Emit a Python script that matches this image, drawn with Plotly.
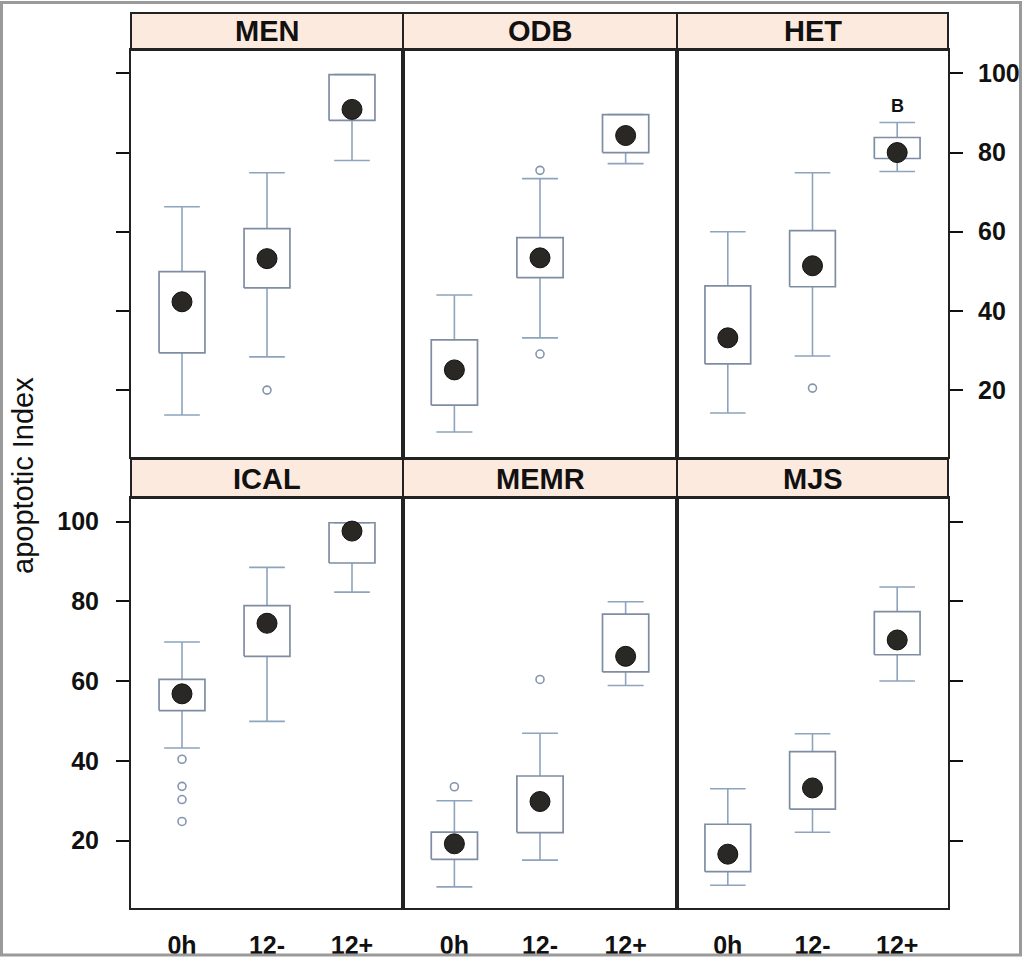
import plotly.graph_objects as go

# panels (lattice order: top row first) and time groups
panels = ["MEN", "ODB", "HET", "ICAL", "MEMR", "MJS"]
groups = ["0h", "12-", "12+"]

# box stats, one row per panel, one value per group
whisker_lo = [
    [13.7, 28.4, 78.0],
    [9.4, 33.2, 77.2],
    [14.2, 28.6, 75.2],
    [43.2, 49.9, 82.3],
    [8.4, 15.1, 58.9],
    [8.8, 22.1, 60.0],
]
q1 = [
    [29.4, 45.8, 88.1],
    [16.2, 48.4, 80.0],
    [26.6, 46.1, 78.5],
    [52.6, 66.2, 89.6],
    [15.3, 22.0, 62.3],
    [12.2, 27.9, 66.6],
]
median = [
    [42.3, 53.2, 90.9],
    [25.1, 53.4, 84.3],
    [33.2, 51.4, 80.0],
    [56.8, 74.5, 97.6],
    [19.2, 29.8, 66.2],
    [16.6, 33.2, 70.3],
]
q3 = [
    [49.9, 60.8, 99.7],
    [32.7, 58.5, 89.6],
    [46.3, 60.3, 83.8],
    [60.4, 78.9, 99.7],
    [22.1, 36.2, 76.8],
    [24.1, 42.3, 77.4],
]
whisker_hi = [
    [66.3, 74.9, 99.7],
    [44.0, 73.4, 89.6],
    [60.0, 74.9, 87.6],
    [69.8, 88.5, 99.7],
    [30.0, 46.9, 79.9],
    [33.0, 46.8, 83.6],
]
outliers = [
    [[], [20.0], []],
    [[], [75.5, 29.1], []],
    [[], [20.5], []],
    [[40.4, 33.6, 30.3, 24.8], [], []],
    [[33.5], [60.4], []],
    [[], [], []],
]
y_ticks = [20, 40, 60, 80, 100]

W, H = 1023, 958
col_px = [(131, 403), (403, 677), (677, 948)]
row_px = [(50, 457), (498, 908)]       # plot area, top -> bottom
strip_px = [(13, 50), (459, 498)]

box_col = "#7f8da2"
whisk_col = "#8ea3bd"
half_box = 0.27
half_cap = 0.21
tick_font = dict(family="Liberation Sans", size=25, color="#111111", weight="bold")

fig = go.Figure()
layout = {}
shapes = []
annotations = []

for p, name in enumerate(panels):
    r, c = divmod(p, 3)
    n = p + 1
    xa, ya = ("x" if n == 1 else f"x{n}"), ("y" if n == 1 else f"y{n}")

    bx, by, wx, wy, ox, oy = [], [], [], [], [], []
    for i in range(len(groups)):
        bx += [i - half_box, i + half_box, i + half_box, i - half_box, i - half_box, None]
        by += [q1[p][i], q1[p][i], q3[p][i], q3[p][i], q1[p][i], None]
        # whiskers with caps
        wx += [i, i, None, i - half_cap, i + half_cap, None]
        wy += [q3[p][i], whisker_hi[p][i], None, whisker_hi[p][i], whisker_hi[p][i], None]
        wx += [i, i, None, i - half_cap, i + half_cap, None]
        wy += [q1[p][i], whisker_lo[p][i], None, whisker_lo[p][i], whisker_lo[p][i], None]
        for v in outliers[p][i]:
            ox.append(i)
            oy.append(v)

    fig.add_trace(go.Scatter(x=wx, y=wy, mode="lines", xaxis=xa, yaxis=ya,
                             line=dict(color=whisk_col, width=1.6), hoverinfo="skip"))
    fig.add_trace(go.Scatter(x=bx, y=by, mode="lines", xaxis=xa, yaxis=ya,
                             line=dict(color=box_col, width=1.7), hoverinfo="skip"))
    fig.add_trace(go.Scatter(x=ox, y=oy, mode="markers", xaxis=xa, yaxis=ya,
                             marker=dict(symbol="circle-open", size=8, color="#8595ad",
                                         line=dict(width=1.6))))
    fig.add_trace(go.Scatter(x=list(range(len(groups))), y=median[p], mode="markers",
                             xaxis=xa, yaxis=ya,
                             marker=dict(size=20, color="#2a2824",
                                         line=dict(color="#111111", width=1))))

    x0, x1 = col_px[c]
    top, bot = row_px[r]
    xdom = [x0 / W, x1 / W]
    ydom = [1 - bot / H, 1 - top / H]

    xaxis = dict(domain=xdom, anchor=ya, range=[-0.6, 2.6], showgrid=False, zeroline=False,
                 showline=True, mirror=True, linecolor="#222222", linewidth=2,
                 tickvals=list(range(len(groups))), ticktext=groups, ticks="",
                 showticklabels=(r == 1), ticklabelstandoff=14, tickfont=tick_font)
    yaxis = dict(domain=ydom, anchor=xa, range=[3.1, 105.9], showgrid=False, zeroline=False,
                 showline=True, mirror=True, linecolor="#222222", linewidth=2,
                 tickvals=y_ticks, ticks="", showticklabels=False, ticklen=13,
                 tickwidth=2, tickcolor="#111111", ticklabelstandoff=12, tickfont=tick_font)
    if c == 0:
        yaxis.update(side="left", ticks="outside", showticklabels=(r == 1))
    elif c == 2:
        yaxis.update(side="right", ticks="outside", showticklabels=(r == 0),
                     ticklabelstandoff=10)

    layout["xaxis" if n == 1 else f"xaxis{n}"] = xaxis
    layout["yaxis" if n == 1 else f"yaxis{n}"] = yaxis

    # strip header
    s0, s1 = strip_px[r]
    shapes.append(dict(type="rect", xref="paper", yref="paper",
                       x0=xdom[0], x1=xdom[1], y0=1 - s1 / H, y1=1 - s0 / H,
                       fillcolor="#fdeade", line=dict(color="#222222", width=2), layer="below"))
    annotations.append(dict(text=name, xref="paper", yref="paper",
                            x=(xdom[0] + xdom[1]) / 2, y=1 - (s0 + s1) / 2 / H,
                            showarrow=False, xanchor="center", yanchor="middle",
                            font=dict(family="Liberation Sans", size=29, color="#111111",
                                      weight="bold")))

# letter above the HET 12+ box
annotations.append(dict(text="B", xref="x3", yref="y3", x=2, y=91.8, showarrow=False,
                        font=dict(family="Liberation Sans", size=18, color="#111111",
                                  weight="bold")))

# y axis title
annotations.append(dict(text="apoptotic Index", xref="paper", yref="paper",
                        x=23 / W, y=1 - 476 / H, textangle=-90, showarrow=False,
                        xanchor="center", yanchor="middle",
                        font=dict(family="Liberation Sans", size=29, color="#111111")))

# outer frame of the picture
shapes.append(dict(type="rect", xref="paper", yref="paper",
                   x0=1.5 / W, x1=1 - 2.5 / W, y0=3 / H, y1=1 - 2.5 / H,
                   line=dict(color="#9a9a9a", width=3)))

fig.update_layout(
    width=W, height=H,
    margin=dict(l=0, r=0, t=0, b=0),
    paper_bgcolor="white", plot_bgcolor="white",
    showlegend=False,
    shapes=shapes, annotations=annotations,
    **layout,
)

# drop the page's default body margin so the figure sits at the window corner
fig.write_html("out.html", config={"displayModeBar": False},
               post_script="document.body.style.margin = '0';")
